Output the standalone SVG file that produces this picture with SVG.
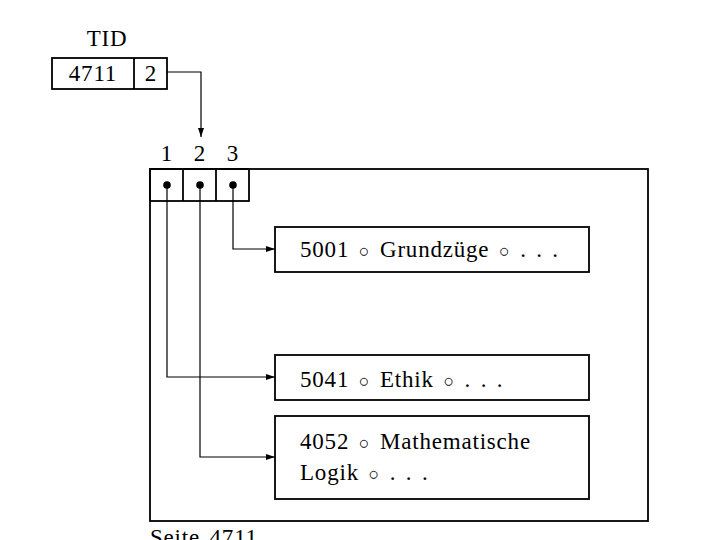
<svg xmlns="http://www.w3.org/2000/svg" width="720" height="540" viewBox="0 0 720 540">
<style>
text{font-family:"Liberation Serif","DejaVu Serif",serif;font-size:23px;fill:#000;letter-spacing:0.8px;word-spacing:3px}
.o{font-size:18px}
.box{fill:none;stroke:#000;stroke-width:1.8}
.con{fill:none;stroke:#000;stroke-width:1.2}
</style>
<defs>
<marker id="ah" markerWidth="10" markerHeight="8" refX="9" refY="4" orient="auto" markerUnits="userSpaceOnUse">
<path d="M0,1 L9,4 L0,7 Z" fill="#000"/>
</marker>
</defs>
<rect width="720" height="540" fill="#fff"/>
<g id="tid">
<text x="107" y="46" text-anchor="middle">TID</text>
<rect class="box" x="52" y="58" width="115" height="31"/>
<line class="box" x1="134" y1="58" x2="134" y2="89"/>
<text x="93" y="81" text-anchor="middle">4711</text>
<text x="151" y="81" text-anchor="middle">2</text>
</g>
<g id="seite">
<rect class="box" x="150" y="169" width="498" height="352"/>
<text x="150" y="545">Seite 4711</text>
</g>
<g id="slots">
<text x="167" y="161" text-anchor="middle">1</text>
<text x="200" y="161" text-anchor="middle">2</text>
<text x="233" y="161" text-anchor="middle">3</text>
<rect class="box" x="150" y="169" width="99" height="32"/>
<line class="box" x1="183" y1="169" x2="183" y2="201"/>
<line class="box" x1="216" y1="169" x2="216" y2="201"/>
<circle cx="167" cy="185" r="3.8"/>
<circle cx="200" cy="185" r="3.8"/>
<circle cx="233" cy="185" r="3.8"/>
</g>
<g id="rec1">
<rect class="box" x="275" y="227" width="314" height="45"/>
<text x="300" y="257">5001 <tspan class="o">○</tspan> Grundzüge <tspan class="o">○</tspan> . . .</text>
</g>
<g id="rec2">
<rect class="box" x="275" y="355" width="314" height="45"/>
<text x="300" y="387">5041 <tspan class="o">○</tspan> Ethik <tspan class="o">○</tspan> . . .</text>
</g>
<g id="rec3">
<rect class="box" x="275" y="416" width="314" height="83"/>
<text x="300" y="449">4052 <tspan class="o">○</tspan> Mathematische</text>
<text x="300" y="480">Logik <tspan class="o">○</tspan> . . .</text>
</g>
<g id="connectors">
<path class="con" d="M167,72 H201 V137" marker-end="url(#ah)"/>
<path class="con" d="M233,185 V249 H275" marker-end="url(#ah)"/>
<path class="con" d="M167,185 V377 H275" marker-end="url(#ah)"/>
<path class="con" d="M200,185 V457 H275" marker-end="url(#ah)"/>
</g>
</svg>
